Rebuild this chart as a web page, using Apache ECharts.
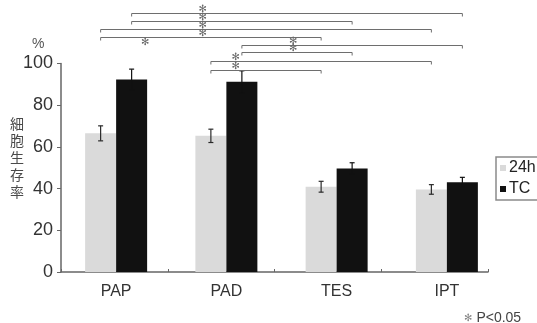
<!DOCTYPE html>
<html>
<head>
<meta charset="utf-8">
<script src="https://cdn.jsdelivr.net/npm/echarts@6/dist/echarts.min.js"></script>
<style>html,body{margin:0;padding:0;background:#fff}#c{width:537px;height:323px}</style>
</head>
<body>
<div id="c"></div>
<script>
// ---- data ----
const categories = ['PAP', 'PAD', 'TES', 'IPT'];
const seriesNames = ['24h', 'TC'];
const mean24h = [66.5, 65.3, 40.9, 39.6];
const sd24h = [3.6, 3.2, 2.6, 2.3];
const meanTC = [92.3, 91.2, 49.7, 43.0];
const sdTC = [5.0, 5.3, 2.7, 2.4];
const yMin = 0, yMax = 100, yStep = 20;
// significance brackets: [fromCategory, fromSeries, toCategory, toSeries, level (%)]
const brackets = [
  [0, 1, 3, 1, 124.2],
  [0, 1, 2, 1, 120.4],
  [0, 0, 3, 0, 116.6],
  [0, 0, 2, 0, 112.8],
  [1, 1, 3, 1, 109.1],
  [1, 1, 2, 1, 105.3],
  [1, 0, 3, 0, 101.1],
  [1, 0, 2, 0, 97.1]
];
// asterisk position (category units) for each bracket
const starCat = [0.786, 0.786, 0.786, 0.786, 1.607, 1.607, 1.085, 1.085];
// lone asterisk [category units, level %]
const extraStar = [[0.263, 110.3]];
const footnote = 'P<0.05';

// ---- styles ----
const BAR_W = 31, HALF = BAR_W / 2;
const LIGHT = '#dadada', DARK = '#111111';
const NUM_FONT = "'Liberation Sans', Arial, sans-serif";
const CJK_FONT = "'Noto Sans CJK JP', sans-serif";

const chart = echarts.init(document.getElementById('c'), null, {renderer: 'canvas'});

function errRender(offset, color) {
  return function (params, api) {
    const i = api.value(0), m = api.value(1), s = api.value(2);
    const c = api.coord([i, m]);
    const x = c[0] + offset;
    const top = api.coord([i, m + s])[1];
    const bot = api.coord([i, m - s])[1];
    const st = {stroke: color, lineWidth: 1.2};
    return {type: 'group', children: [
      {type: 'line', shape: {x1: x, y1: top, x2: x, y2: bot}, style: st},
      {type: 'line', shape: {x1: x - 2.5, y1: top, x2: x + 2.5, y2: top}, style: st},
      {type: 'line', shape: {x1: x - 2.5, y1: bot, x2: x + 2.5, y2: bot}, style: st}
    ]};
  };
}

// x pixel of a fractional category position
function catX(api, pos, lvl) {
  const base = Math.floor(pos);
  const band = api.size([1, 0])[0];
  return api.coord([base, lvl])[0] + (pos - base) * band;
}

const starStyle = {fontSize: 10, fontFamily: "'DejaVu Sans', sans-serif", fill: '#6a6a6a', align: 'center', verticalAlign: 'middle'};
const STAR = '✻';

chart.setOption({
  animation: false,
  backgroundColor: '#fff',
  title: [
    {text: '%', left: 27, top: 32, textStyle: {fontSize: 14, fontWeight: 'normal', color: '#555', fontFamily: NUM_FONT}},
    {text: '細\n胞\n生\n存\n率', left: 5, top: 110, textStyle: {fontSize: 14, lineHeight: 17, fontWeight: 'normal', color: '#4a4a4a', fontFamily: CJK_FONT}},
    {text: '{a|' + STAR + '}{b|' + footnote + '}', left: 459, top: 306, textStyle: {fontWeight: 'normal', rich: {
      a: {fontSize: 10, color: '#888', fontFamily: "'DejaVu Sans', sans-serif", padding: [0, 4, 0, 0], fontWeight: 'normal'},
      b: {fontSize: 14, color: '#444', fontFamily: NUM_FONT, fontWeight: 'normal'}
    }}}
  ],
  legend: {
    data: seriesNames,
    orient: 'vertical',
    left: 496, top: 157,
    icon: 'rect',
    itemWidth: 6, itemHeight: 6, itemGap: 5,
    padding: [3, 30, 3, 4],
    borderColor: '#8a8a8a', borderWidth: 1.5,
    textStyle: {fontSize: 16, color: '#222', fontFamily: NUM_FONT, padding: [0, 0, 0, -2]}
  },
  grid: [
    {left: 61, right: 35, top: 63.5, bottom: 51},
    {left: 61, right: 49, top: 63.5, bottom: 51}
  ],
  xAxis: [
    {gridIndex: 0, type: 'category', data: categories,
     axisLine: {show: false}, axisTick: {show: false},
     axisLabel: {fontSize: 16, color: '#333', margin: 12, fontFamily: NUM_FONT}},
    {gridIndex: 1, type: 'category', data: categories.map(() => ''),
     axisLine: {show: true, lineStyle: {color: '#666', width: 1.5}},
     axisTick: {show: true, inside: true, length: 3, lineStyle: {color: '#666'}},
     axisLabel: {show: false}}
  ],
  yAxis: [
    {gridIndex: 0, type: 'value', min: yMin, max: yMax, interval: yStep, show: false},
    {gridIndex: 1, type: 'value', min: yMin, max: yMax, interval: yStep,
     axisLine: {show: true, lineStyle: {color: '#666', width: 1.5}},
     axisTick: {show: true, length: 4, lineStyle: {color: '#666'}},
     splitLine: {show: false},
     axisLabel: {fontSize: 18, color: '#333', margin: 8, fontFamily: NUM_FONT}}
  ],
  series: [
    {name: '24h', type: 'bar', xAxisIndex: 0, yAxisIndex: 0, data: mean24h, barWidth: BAR_W, barGap: '0%',
     itemStyle: {color: LIGHT}},
    {name: 'TC', type: 'bar', xAxisIndex: 0, yAxisIndex: 0, data: meanTC, barWidth: BAR_W, barGap: '0%',
     itemStyle: {color: DARK}},
    {type: 'custom', xAxisIndex: 0, yAxisIndex: 0, z: 5, clip: false,
     data: mean24h.map((m, i) => [i, m, sd24h[i]]), encode: {x: 0, y: 1},
     renderItem: errRender(-HALF, '#2a2a2a')},
    {type: 'custom', xAxisIndex: 0, yAxisIndex: 0, z: 5, clip: false,
     data: meanTC.map((m, i) => [i, m, sdTC[i]]), encode: {x: 0, y: 1},
     renderItem: errRender(HALF, '#111')},
    {type: 'custom', xAxisIndex: 0, yAxisIndex: 0, z: 6, clip: false,
     data: brackets, encode: {x: 0, y: 4},
     renderItem: function (params, api) {
       const lvl = api.value(4);
       const a = api.coord([api.value(0), lvl]);
       const b = api.coord([api.value(2), lvl]);
       const xa = a[0] + (api.value(1) === 0 ? -HALF : HALF);
       const xb = b[0] + (api.value(3) === 0 ? -HALF : HALF);
       const y = Math.round(a[1]) + 0.5;
       const sx = catX(api, starCat[params.dataIndex], lvl);
       return {type: 'group', children: [
         {type: 'polyline', shape: {points: [[xa, y + 3], [xa, y], [xb, y], [xb, y + 3]]},
          style: {stroke: '#6e6e6e', lineWidth: 1, fill: null}},
         {type: 'text', style: Object.assign({text: STAR, x: sx, y: y - 4.5}, starStyle)}
       ]};
     }},
    {type: 'custom', xAxisIndex: 0, yAxisIndex: 0, z: 6, clip: false,
     data: extraStar, encode: {x: 0, y: 1},
     renderItem: function (params, api) {
       const x = catX(api, api.value(0), api.value(1));
       const y = api.coord([0, api.value(1)])[1];
       return {type: 'text', style: Object.assign({text: STAR, x: x, y: y}, starStyle)};
     }}
  ]
});
</script>
</body>
</html>
